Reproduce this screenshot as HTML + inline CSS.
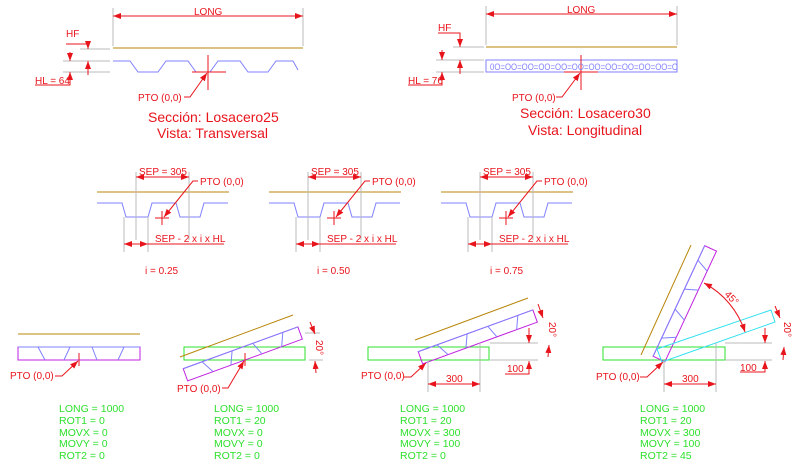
<!DOCTYPE html>
<html><head><meta charset="utf-8"><style>
body{margin:0;background:#fff}
svg{display:block}
text{font-family:"Liberation Sans",sans-serif}
.r{fill:#e8141c;font-size:10px}
.g{fill:#2ee02e;font-size:10.5px}
.t{fill:#e8141c;font-size:14px}
</style></head><body>
<svg width="804" height="466" viewBox="0 0 804 466" xmlns="http://www.w3.org/2000/svg">
<defs>
<marker id="a" markerWidth="8" markerHeight="6" refX="8" refY="3" orient="auto-start-reverse" markerUnits="userSpaceOnUse"><path d="M0,0L8,3L0,6z" fill="#e8141c"/></marker>
</defs>
<g stroke-width="1" fill="none">
<!-- TOP LEFT -->
<line x1="113" y1="8" x2="113" y2="46" stroke="#bbb"/>
<line x1="303" y1="8" x2="303" y2="46" stroke="#bbb"/>
<line x1="113" y1="16" x2="303" y2="16" stroke="#e8141c" marker-start="url(#a)" marker-end="url(#a)"/>
<line x1="113" y1="48" x2="303" y2="48" stroke="#b8860b"/>
<polyline stroke="#8080ff" points="113,61 130,61 138,72 158,72 166,61 188,61 196,72 210,72 218,61 240,61 248,72 268,72 276,61 293,61 298,70"/>
<line x1="80" y1="49" x2="110" y2="49" stroke="#bbb"/>
<line x1="63" y1="61" x2="110" y2="61" stroke="#bbb"/>
<line x1="63" y1="72" x2="110" y2="72" stroke="#bbb"/>
<polyline stroke="#e8141c" points="66,44 88,44 88,49" marker-end="url(#a)"/>
<line x1="70" y1="52" x2="70" y2="61" stroke="#e8141c" marker-end="url(#a)"/>
<line x1="88" y1="75" x2="88" y2="61" stroke="#e8141c" marker-end="url(#a)"/>
<polyline stroke="#e8141c" points="35,85 70,85 70,72" marker-end="url(#a)"/>
<line x1="208" y1="55" x2="208" y2="90" stroke="#e8141c"/>
<line x1="192" y1="72" x2="226" y2="72" stroke="#e8141c"/>
<polyline stroke="#e8141c" points="184,97 190,97 207,73" marker-end="url(#a)"/>
<!-- TOP RIGHT -->
<line x1="486" y1="6" x2="486" y2="45" stroke="#bbb"/>
<line x1="677" y1="6" x2="677" y2="45" stroke="#bbb"/>
<line x1="486" y1="14" x2="677" y2="14" stroke="#e8141c" marker-start="url(#a)" marker-end="url(#a)"/>
<line x1="486" y1="47" x2="677" y2="47" stroke="#b8860b"/>
<rect x="486" y="60" width="191" height="12" stroke="#8080ff"/>
<line x1="453" y1="47" x2="484" y2="47" stroke="#bbb"/>
<line x1="436" y1="60" x2="484" y2="60" stroke="#bbb"/>
<line x1="436" y1="72" x2="484" y2="72" stroke="#bbb"/>
<polyline stroke="#e8141c" points="438,33 460,33 460,47" marker-end="url(#a)"/>
<line x1="442" y1="50" x2="442" y2="60" stroke="#e8141c" marker-end="url(#a)"/>
<line x1="460" y1="74" x2="460" y2="60" stroke="#e8141c" marker-end="url(#a)"/>
<polyline stroke="#e8141c" points="408,85 442,85 442,72" marker-end="url(#a)"/>
<line x1="581" y1="55" x2="581" y2="90" stroke="#e8141c"/>
<line x1="564" y1="72" x2="598" y2="72" stroke="#e8141c"/>
<polyline stroke="#e8141c" points="556,97 562,97 580,73" marker-end="url(#a)"/>
</g>
<text x="490" y="70" fill="#8080ff" font-size="9.5" font-family="Liberation Mono,monospace" textLength="188" lengthAdjust="spacingAndGlyphs">0O=OO=OO=OO=OO=OO=OO=OO=OO=OO=OO=O</text>
<text class="r" x="194" y="15">LONG</text>
<text class="r" x="66" y="37">HF</text>
<text class="r" x="35" y="84">HL = 64</text>
<text class="r" x="138" y="101">PTO (0,0)</text>
<text class="t" x="148" y="122">Sección: Losacero25</text>
<text class="t" x="157" y="138">Vista: Transversal</text>
<text class="r" x="567" y="13">LONG</text>
<text class="r" x="438" y="31">HF</text>
<text class="r" x="408" y="84">HL = 76</text>
<text class="r" x="512" y="101">PTO (0,0)</text>
<text class="t" x="520" y="118">Sección: Losacero30</text>
<text class="t" x="528" y="135">Vista: Longitudinal</text>

<!-- MIDDLE -->
<g id="m" fill="none">
<line x1="97" y1="192" x2="229" y2="192" stroke="#b8860b"/>
<polyline stroke="#8080ff" points="97,203 122,203 126,217 148,217 152,203 176,203 180,217 200,217 204,203 228,203"/>
<line x1="136" y1="172" x2="136" y2="240" stroke="#bbb"/>
<line x1="189" y1="172" x2="189" y2="240" stroke="#bbb"/>
<line x1="124" y1="217" x2="124" y2="252" stroke="#bbb"/>
<line x1="148" y1="217" x2="148" y2="252" stroke="#bbb"/>
<line x1="136" y1="177" x2="189" y2="177" stroke="#e8141c" marker-start="url(#a)" marker-end="url(#a)"/>
<line x1="124" y1="244" x2="148" y2="244" stroke="#e8141c" marker-start="url(#a)" marker-end="url(#a)"/>
<line x1="148" y1="244" x2="224" y2="244" stroke="#e8141c"/>
<polyline stroke="#e8141c" points="198,181 193,181 164,217" marker-end="url(#a)"/>
<line x1="162" y1="211" x2="162" y2="225" stroke="#e8141c"/>
<line x1="155" y1="218" x2="169" y2="218" stroke="#e8141c"/>
<text class="r" x="139" y="175" stroke="none">SEP = 305</text>
<text class="r" x="200" y="185" stroke="none">PTO (0,0)</text>
<text class="r" x="155" y="242" stroke="none">SEP - 2 x i x HL</text>
</g>
<use href="#m" x="172"/>
<use href="#m" x="344"/>
<text class="r" x="145" y="274">i = 0.25</text>
<text class="r" x="317" y="274">i = 0.50</text>
<text class="r" x="490" y="274">i = 0.75</text>

<!-- BOTTOM -->
<g id="bar" fill="none">
<rect x="18" y="347" width="122" height="13" stroke="#c020e0"/>
<line x1="18" y1="347" x2="140" y2="347" stroke="#8080ff"/>
<path d="M38,347L45,360M70,347L64,360M92,347L97,360M124,347L118,360" stroke="#8080ff"/>
</g>
<g fill="none">
<line x1="18" y1="334" x2="140" y2="334" stroke="#b8860b"/>
<line x1="79" y1="353" x2="79" y2="366" stroke="#e8141c"/>
<polyline stroke="#e8141c" points="55,376 62,376 78,361" marker-end="url(#a)"/>

<!-- panel2 -->
<rect x="184" y="347" width="121" height="13" stroke="#2ee02e"/>
<line x1="180" y1="357" x2="293" y2="315" stroke="#b8860b"/>
<use href="#bar" transform="rotate(-20 245 360) translate(166 0)"/>
<line x1="245" y1="353" x2="245" y2="366" stroke="#e8141c"/>
<polyline stroke="#e8141c" points="222,388 228,388 244,361" marker-end="url(#a)"/>
<line x1="305" y1="333" x2="320" y2="333" stroke="#bbb"/>
<line x1="309" y1="360" x2="323" y2="360" stroke="#bbb"/>
<line x1="310" y1="322" x2="315" y2="334" stroke="#e8141c" marker-end="url(#a)"/>
<line x1="316" y1="373" x2="315" y2="361" stroke="#e8141c" marker-end="url(#a)"/>

<!-- panel3 -->
<rect x="368" y="347" width="121" height="13" stroke="#2ee02e"/>
<line x1="415" y1="340" x2="528" y2="298" stroke="#b8860b"/>
<use href="#bar" transform="rotate(-20 480 343) translate(401 -17)"/>
<line x1="428" y1="360" x2="428" y2="392" stroke="#bbb"/>
<line x1="480" y1="343" x2="480" y2="392" stroke="#bbb"/>
<line x1="428" y1="384" x2="480" y2="384" stroke="#e8141c" marker-start="url(#a)" marker-end="url(#a)"/>
<line x1="490" y1="343" x2="538" y2="343" stroke="#bbb"/>
<line x1="490" y1="360" x2="538" y2="360" stroke="#bbb"/>
<line x1="529" y1="328" x2="529" y2="343" stroke="#e8141c" marker-end="url(#a)"/>
<polyline stroke="#e8141c" points="505,374 529,374 529,361" marker-end="url(#a)"/>
<line x1="538" y1="304" x2="543" y2="318" stroke="#e8141c" marker-end="url(#a)"/>
<line x1="548" y1="357" x2="549" y2="345" stroke="#e8141c" marker-end="url(#a)"/>
<polyline stroke="#e8141c" points="404,377 411,377 426,363" marker-end="url(#a)"/>

<!-- panel4 -->
<rect x="603" y="347" width="122" height="13" stroke="#2ee02e"/>
<line x1="641" y1="355" x2="691" y2="245" stroke="#b8860b"/>
<use href="#bar" transform="translate(659,359) rotate(-65) translate(-18,-353.5)"/>
<polygon points="657,349 771,310 775,322 662,362" stroke="#33e0ee"/>
<path d="M704,283 A85,85 0 0 1 745,332" stroke="#e8141c" marker-start="url(#a)" marker-end="url(#a)"/>
<line x1="664" y1="360" x2="664" y2="392" stroke="#bbb"/>
<line x1="716" y1="343" x2="716" y2="392" stroke="#bbb"/>
<line x1="664" y1="384" x2="716" y2="384" stroke="#e8141c" marker-start="url(#a)" marker-end="url(#a)"/>
<line x1="725" y1="343" x2="772" y2="343" stroke="#bbb"/>
<line x1="725" y1="360" x2="772" y2="360" stroke="#bbb"/>
<line x1="765" y1="328" x2="765" y2="343" stroke="#e8141c" marker-end="url(#a)"/>
<polyline stroke="#e8141c" points="740,372 765,372 765,361" marker-end="url(#a)"/>
<line x1="775" y1="306" x2="780" y2="318" stroke="#e8141c" marker-end="url(#a)"/>
<line x1="783" y1="360" x2="784" y2="347" stroke="#e8141c" marker-end="url(#a)"/>
<polyline stroke="#e8141c" points="640,377 647,377 663,362" marker-end="url(#a)"/>
</g>
<text class="r" x="10" y="379">PTO (0,0)</text>
<text class="r" x="177" y="392">PTO (0,0)</text>
<text class="r" x="361" y="379">PTO (0,0)</text>
<text class="r" x="596" y="380">PTO (0,0)</text>
<text class="r" x="446" y="382">300</text>
<text class="r" x="507" y="372">100</text>
<text class="r" x="682" y="382">300</text>
<text class="r" x="740" y="371">100</text>
<text class="r" transform="translate(316,340) rotate(90)">20°</text>
<text class="r" transform="translate(549,322) rotate(90)">20°</text>
<text class="r" transform="translate(784,322) rotate(90)">20°</text>
<text class="r" transform="translate(724,295) rotate(45)">45°</text>
<g class="g">
<text x="59" y="412">LONG = 1000</text><text x="59" y="424">ROT1 = 0</text><text x="59" y="436">MOVX = 0</text><text x="59" y="447">MOVY = 0</text><text x="59" y="459">ROT2 = 0</text>
<text x="214" y="412">LONG = 1000</text><text x="214" y="424">ROT1 = 20</text><text x="214" y="436">MOVX = 0</text><text x="214" y="447">MOVY = 0</text><text x="214" y="459">ROT2 = 0</text>
<text x="400" y="412">LONG = 1000</text><text x="400" y="424">ROT1 = 20</text><text x="400" y="436">MOVX = 300</text><text x="400" y="447">MOVY = 100</text><text x="400" y="459">ROT2 = 0</text>
<text x="640" y="412">LONG = 1000</text><text x="640" y="424">ROT1 = 20</text><text x="640" y="436">MOVX = 300</text><text x="640" y="447">MOVY = 100</text><text x="640" y="459">ROT2 = 45</text>
</g>
</svg>
</body></html>
